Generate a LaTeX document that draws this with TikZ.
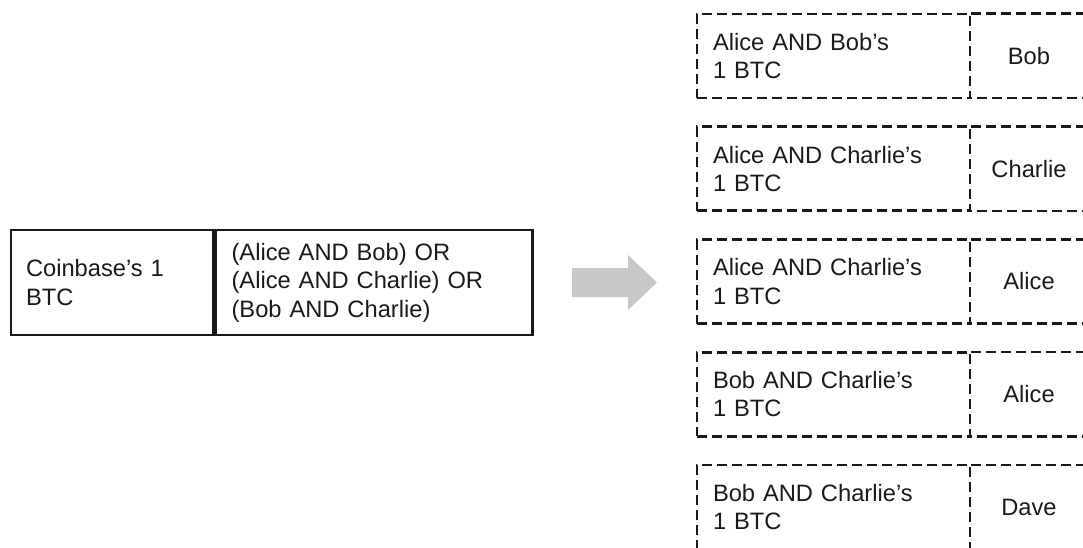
\documentclass[tikz,border=0pt]{standalone}
\usepackage{fontspec}
\setmainfont{Liberation Sans}
\usetikzlibrary{positioning}

\definecolor{inkgray}{RGB}{26,26,26}
\definecolor{arrowgray}{RGB}{200,200,200}

\tikzset{
	solidcell/.style={rectangle, draw=inkgray, line width=2.6pt, inner sep=0pt,
		minimum height=105pt, text=inkgray, font=\fontsize{23.7}{28.4}\selectfont},
	dashline/.style={draw=inkgray, line width=2.6pt, dash pattern=on 10pt off 5pt},
	owncell/.style={rectangle, dashline, inner sep=0pt, minimum width=273pt,
		minimum height=84pt, text width=241pt, align=left, text=inkgray,
		font=\fontsize{23.7}{28.4}\selectfont},
	keycell/.style={rectangle, inner sep=0pt, minimum width=115pt,
		minimum height=84pt, align=center, text=inkgray,
		font=\fontsize{23.7}{28.4}\selectfont}
}

\begin{document}
\begin{tikzpicture}[x=1pt,y=-1pt]
	\useasboundingbox (0,0) rectangle (1083,548);

	% Coinbase output and its condition
	\node[solidcell, minimum width=202pt, text width=172pt, align=left] (coin) at (112,282.5)
		{Coinbase's 1\\BTC};
	\node[solidcell, minimum width=317pt, text width=285pt, align=left, right=0pt of coin] (cond)
		{(Alice AND Bob) OR\\(Alice AND Charlie) OR\\(Bob AND Charlie)};

	% big gray arrow
	\fill[arrowgray] (572,268) -- (628,268) -- (628,255) -- (657,282.5)
		-- (628,310) -- (628,297) -- (572,297) -- cycle;

	% outputs
	\node[owncell] (own1) at (833.5,56) {Alice AND Bob's\\1 BTC};
	\node[keycell, right=0pt of own1] (key1) {Bob};
	\node[owncell] (own2) at (833.5,168.75) {Alice AND Charlie's\\1 BTC};
	\node[keycell, right=0pt of own2] (key2) {Charlie};
	\node[owncell] (own3) at (833.5,281.5) {Alice AND Charlie's\\1 BTC};
	\node[keycell, right=0pt of own3] (key3) {Alice};
	\node[owncell] (own4) at (833.5,394.25) {Bob AND Charlie's\\1 BTC};
	\node[keycell, right=0pt of own4] (key4) {Alice};
	\node[owncell] (own5) at (833.5,507) {Bob AND Charlie's\\1 BTC};
	\node[keycell, right=0pt of own5] (key5) {Dave};

	% key cells: top, right and bottom edges
	\draw[dashline] (key1.north west) -- (key1.north east) -- (key1.south east) -- (key1.south west);
	\draw[dashline] (key2.north west) -- (key2.north east) -- (key2.south east) -- (key2.south west);
	\draw[dashline] (key3.north west) -- (key3.north east) -- (key3.south east) -- (key3.south west);
	\draw[dashline] (key4.north west) -- (key4.north east) -- (key4.south east) -- (key4.south west);
	\draw[dashline] (key5.north west) -- (key5.north east) -- (key5.south east) -- (key5.south west);
\end{tikzpicture}
\end{document}
